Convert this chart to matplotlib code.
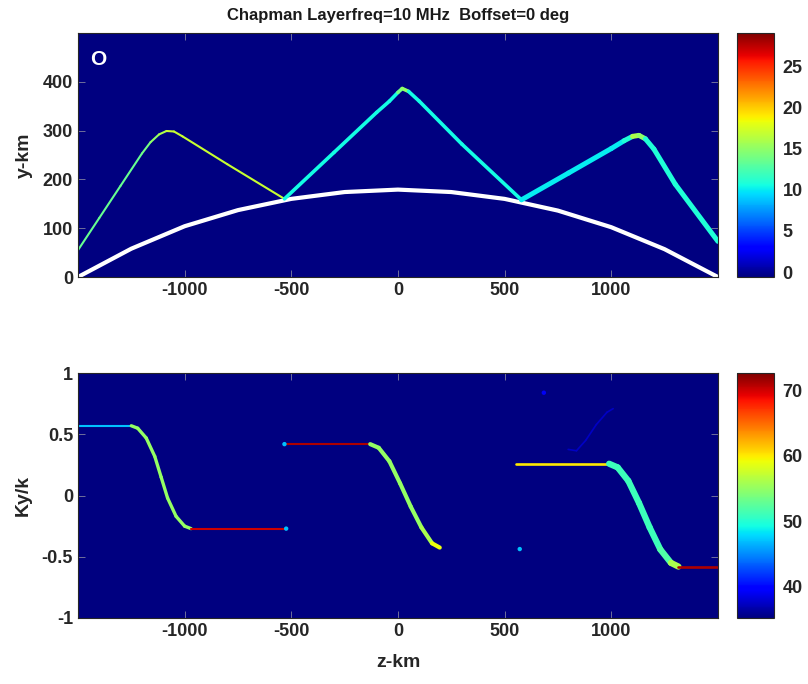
import matplotlib
matplotlib.use('Agg')
import matplotlib.pyplot as plt
import numpy as np
from matplotlib.collections import LineCollection
from matplotlib.colors import Normalize
from matplotlib.cm import ScalarMappable

plt.rcParams['font.family'] = ['Liberation Sans', 'DejaVu Sans']
plt.rcParams['axes.unicode_minus'] = False

# ray path (top panel), three hops: z-km, y-km and colour value
hop1_z = [-1500, -1400, -1300, -1200, -1160, -1120, -1085, -1050, -1010, -800, -532]
hop1_y = [55, 121, 187, 253, 276, 292, 299, 298, 288, 231, 160]
hop1_v = [13.5, 13.5, 13.5, 14, 15, 16, 17, 17, 17, 17, 17]

hop2_z = [-532, -300, -100, -40, 0, 20, 50, 100, 300, 579]
hop2_y = [160, 255, 337, 360, 378, 386, 380, 360, 272, 158]
hop2_v = [10.5, 10.5, 10.5, 10.5, 14, 15, 10.5, 10.5, 10.5, 10.5]

hop3_z = [579, 800, 1000, 1060, 1100, 1130, 1160, 1200, 1300, 1500]
hop3_y = [158, 213, 263, 279, 288, 290, 283, 262, 190, 73]
hop3_v = [10, 10, 10, 11, 16, 15, 11, 11, 11, 11]

# ground (white curve)
ground_z = [-1500, -1250, -1000, -750, -500, -250, 0, 250, 500, 750, 1000, 1250, 1500]
ground_y = [0, 58, 104, 137, 160, 174, 179, 174, 160, 136, 102, 57, 0]

# Ky/k (bottom panel)
kyA_z = [-1500, -1250, -1220, -1180, -1140, -1110, -1080, -1040, -1000, -970, -524]
kyA_y = [0.57, 0.57, 0.55, 0.47, 0.32, 0.15, -0.02, -0.17, -0.25, -0.27, -0.27]
kyA_v = [47, 55, 55, 55, 55, 55, 55, 55, 55, 70, 70]

kyB_z = [-532, -130, -90, -40, 10, 60, 110, 160, 196]
kyB_y = [0.42, 0.42, 0.39, 0.28, 0.10, -0.09, -0.26, -0.39, -0.425]
kyB_v = [71, 55, 55, 55, 55, 55, 56, 59, 59]

kyC_z = [555, 990, 1030, 1080, 1130, 1180, 1230, 1280, 1315, 1500]
kyC_y = [0.26, 0.26, 0.23, 0.12, -0.06, -0.26, -0.44, -0.55, -0.58, -0.58]
kyC_v = [60, 51, 51, 51, 51, 51, 52, 56, 71, 71]

faint_z = [798, 837, 880, 930, 980, 1009]
faint_y = [0.377, 0.366, 0.45, 0.58, 0.68, 0.71]
faint_v = [37.5, 37.5, 37.5, 37.5, 37.5, 37.5]

spot_z = [-524, -532, 571, 684]
spot_y = [-0.27, 0.42, -0.437, 0.84]
spot_v = [47, 47, 47, 39]

top_ticks = [0, 5, 10, 15, 20, 25]
bot_ticks = [40, 50, 60, 70]
top_clim = (-0.6, 29.1)
bot_clim = (35.2, 72.6)

cmap = plt.get_cmap('jet')
fig = plt.figure(figsize=(8.08, 6.84), dpi=100)

ax1 = fig.add_axes([0.0965, 0.595, 0.792, 0.357])
cax1 = fig.add_axes([0.912, 0.595, 0.046, 0.357])
ax2 = fig.add_axes([0.0965, 0.0965, 0.792, 0.358])
cax2 = fig.add_axes([0.912, 0.0965, 0.046, 0.358])


def add_path(ax, z, y, v, norm, lw_flat, lw_slope):
    pts = np.column_stack([z, y])
    segs = np.stack([pts[:-1], pts[1:]], axis=1)
    cols = cmap(norm(np.array(v[:-1], dtype=float)))
    lws = [lw_flat if abs(s[1][1] - s[0][1]) < 1e-9 else lw_slope for s in segs]
    lc = LineCollection(segs, colors=cols, linewidths=lws, capstyle='round', joinstyle='round')
    ax.add_collection(lc)


# top panel
norm1 = Normalize(*top_clim)
ax1.set_facecolor(cmap(0.0))
ax1.plot(ground_z, ground_y, color='white', lw=3, solid_capstyle='butt', zorder=2)
add_path(ax1, hop1_z, hop1_y, hop1_v, norm1, 1.5, 1.5)
add_path(ax1, hop2_z, hop2_y, hop2_v, norm1, 2.6, 2.6)
add_path(ax1, hop3_z, hop3_y, hop3_v, norm1, 3.6, 3.6)
ax1.set_xlim(-1500, 1500)
ax1.set_ylim(0, 500)
ax1.set_xticks([-1000, -500, 0, 500, 1000])
ax1.set_yticks([0, 100, 200, 300, 400])
ax1.set_ylabel('y-km', fontsize=14, fontweight='bold', color='#262626', labelpad=7)
ax1.set_title('Chapman Layerfreq=10 MHz  Boffset=0 deg', fontsize=12, fontweight='bold',
              color='#1a1a1a', pad=9)
ax1.text(0.032, 0.892, 'O', transform=ax1.transAxes, color='white', fontsize=15,
         fontweight='bold', ha='center', va='center')

# bottom panel
norm2 = Normalize(*bot_clim)
ax2.set_facecolor(cmap(0.0))
add_path(ax2, kyA_z, kyA_y, kyA_v, norm2, 1.5, 2.4)
add_path(ax2, kyB_z, kyB_y, kyB_v, norm2, 1.5, 3.0)
add_path(ax2, kyC_z, kyC_y, kyC_v, norm2, 1.9, 4.5)
add_path(ax2, faint_z, faint_y, faint_v, norm2, 1.2, 1.2)
ax2.scatter(spot_z, spot_y, c=spot_v, cmap=cmap, norm=norm2, s=10, lw=0, zorder=3)
ax2.set_xlim(-1500, 1500)
ax2.set_ylim(-1, 1)
ax2.set_xticks([-1000, -500, 0, 500, 1000])
ax2.set_yticks([-1, -0.5, 0, 0.5, 1])
ax2.set_yticklabels(['-1', '-0.5', '0', '0.5', '1'])
ax2.set_ylabel('Ky/k', fontsize=14, fontweight='bold', color='#262626', labelpad=7)
ax2.set_xlabel('z-km', fontsize=14, fontweight='bold', color='#262626', labelpad=10)

for ax in (ax1, ax2):
    ax.tick_params(direction='in', top=True, right=True, length=5, width=0.6,
                   color='#8080a0', labelcolor='#262626', labelsize=13)
    for lab in ax.get_xticklabels() + ax.get_yticklabels():
        lab.set_fontweight('bold')
    for sp in ax.spines.values():
        sp.set_color('#262626')
        sp.set_linewidth(0.8)

for cax, norm, ticks in ((cax1, norm1, top_ticks), (cax2, norm2, bot_ticks)):
    cb = fig.colorbar(ScalarMappable(norm=norm, cmap=cmap), cax=cax, ticks=ticks)
    cb.outline.set_edgecolor('#262626')
    cb.outline.set_linewidth(0.8)
    cax.tick_params(direction='in', length=0, labelcolor='#262626', labelsize=13, pad=6)
    for lab in cax.get_yticklabels():
        lab.set_fontweight('bold')

fig.savefig('out.png', dpi=100, facecolor='white')
